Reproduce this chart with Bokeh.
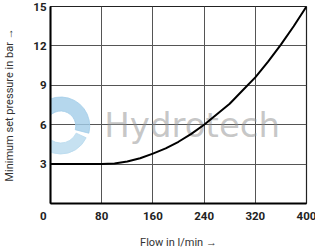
from bokeh.plotting import figure
from bokeh.models import FixedTicker
from bokeh.core.properties import value
from bokeh.embed import file_html
from bokeh.resources import INLINE

flow = [0, 80, 100, 120, 140, 160, 180, 200, 220, 240, 260, 280, 300, 320, 340, 360, 380, 400]
pressure = [3.0, 3.0, 3.05, 3.2, 3.45, 3.8, 4.2, 4.7, 5.3, 6.0, 6.8, 7.6, 8.6, 9.6, 10.8, 12.1, 13.5, 15.0]
x_ticks = [0, 80, 160, 240, 320, 400]
y_ticks = [0, 3, 6, 9, 12, 15]
x_title = "Flow in l/min \u2192"
y_title = "Minimum set pressure in bar \u2192"
watermark = "Hydrotech"

FONT = "Roboto"

p = figure(frame_width=256, frame_height=197, x_range=(0, 400), y_range=(0, 15),
           output_backend="svg", toolbar_location=None,
           min_border_left=48, min_border_right=11, min_border_top=6, min_border_bottom=46)
p.background_fill_color = "white"
p.border_fill_color = "white"
p.outline_line_color = "#222222"
p.outline_line_width = 1.2

# watermark logo (light blue swirl) and text
p.annular_wedge(x=16, y=5.9, inner_radius=15, outer_radius=29, start_angle=-0.25, end_angle=3.3,
                inner_radius_units="screen", outer_radius_units="screen", color="#a3cde8", alpha=0.8)
p.annular_wedge(x=16, y=5.9, inner_radius=17, outer_radius=28, start_angle=3.55, end_angle=5.85,
                inner_radius_units="screen", outer_radius_units="screen", color="#b8daee", alpha=0.8)
p.text(x=[84], y=[6.0], text=[watermark], text_font=value("DejaVu Sans"), text_font_size="34px",
       text_color="#8f8f8f", text_alpha=0.5, text_baseline="middle", text_align="left")

p.line(flow, pressure, line_color="black", line_width=2)

p.xaxis.ticker = FixedTicker(ticks=x_ticks)
p.yaxis.ticker = FixedTicker(ticks=y_ticks)
p.xaxis.major_label_overrides = {0: "0\u00a0\u00a0\u00a0\u00a0\u00a0"}
p.yaxis.major_label_overrides = {0: ""}
p.xgrid.ticker = FixedTicker(ticks=x_ticks)
p.ygrid.ticker = FixedTicker(ticks=y_ticks)
p.grid.grid_line_color = "#555555"
p.grid.grid_line_width = 1

for ax in (p.xaxis, p.yaxis):
    ax.axis_line_color = "black"
    ax.axis_line_width = 2
    ax.major_tick_line_color = None
    ax.minor_tick_line_color = None
    ax.major_tick_out = 0
    ax.major_tick_in = 0
    ax.major_label_text_font = FONT
    ax.major_label_text_font_style = "bold"
    ax.major_label_text_font_size = "11.5px"
    ax.major_label_text_color = "#222222"
    ax.axis_label_text_font = FONT
    ax.axis_label_text_font_style = "normal"
    ax.axis_label_text_font_size = "11px"
    ax.axis_label_text_color = "#333333"

p.xaxis.axis_label = x_title
p.yaxis.axis_label = y_title
p.xaxis.major_label_standoff = 5
p.yaxis.major_label_standoff = 4
p.xaxis.axis_label_standoff = 10
p.yaxis.axis_label_standoff = 14

open("out.html", "w").write(file_html(p, INLINE))
